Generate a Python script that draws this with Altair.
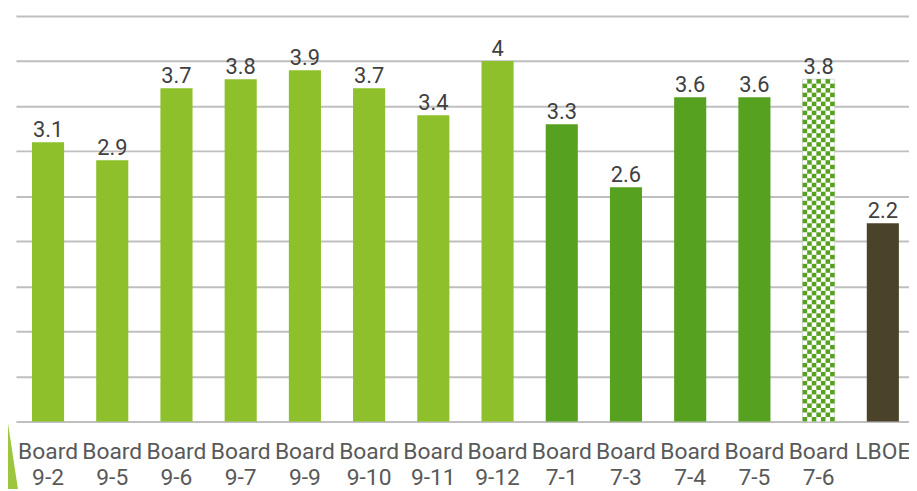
import altair as alt
import pandas as pd

categories = ["Board 9-2", "Board 9-5", "Board 9-6", "Board 9-7", "Board 9-9",
              "Board 9-10", "Board 9-11", "Board 9-12", "Board 7-1", "Board 7-3",
              "Board 7-4", "Board 7-5", "Board 7-6", "LBOE"]
values = [3.1, 2.9, 3.7, 3.8, 3.9, 3.7, 3.4, 4.0, 3.3, 2.6, 3.6, 3.6, 3.8, 2.2]
value_labels = ["3.1", "2.9", "3.7", "3.8", "3.9", "3.7", "3.4", "4",
                "3.3", "2.6", "3.6", "3.6", "3.8", "2.2"]
groups = ["board9"] * 8 + ["board7"] * 4 + ["pattern", "lboe"]

group_domain = ["board9", "board7", "pattern", "lboe"]
group_colors = ["#8DC02A", "#56A11F", "#FFFFFF", "#4B4329"]

df = pd.DataFrame({"cat": categories, "value": values,
                   "label": value_labels, "group": groups})

# checkerboard fill for the hatched bar (decoration cells)
cell = 0.05
ncols = 7
cells = []
for c, v, g in zip(categories, values, groups):
    if g != "pattern":
        continue
    nrows = int(round(v / cell + 0.4999))
    for r in range(nrows):
        for col in range(ncols):
            if (r + col) % 2 == 0:
                cells.append({"cat": c, "col": col, "y0": r * cell,
                              "y1": min((r + 1) * cell, v)})
cells_df = pd.DataFrame(cells)

xscale = alt.Scale(domain=categories, range=[0, 907], paddingInner=0.5, paddingOuter=0.25)
xaxis = alt.Axis(title=None, domain=False, ticks=False, labelAngle=0,
                 labelExpr="split(datum.label, ' ')", labelFont="Roboto",
                 labelFontSize=23, labelColor="#595959", labelLineHeight=27,
                 labelBaseline="alphabetic", labelPadding=37, labelOverlap=False)
yscale = alt.Scale(domain=[0, 4.5], nice=False, zero=True)
yaxis = alt.Axis(title=None, labels=False, ticks=False, domain=False, grid=True,
                 values=[0, 0.5, 1, 1.5, 2, 2.5, 3, 3.5, 4, 4.5],
                 gridColor="#BFBFBF", gridWidth=2)

base = alt.Chart(df)

bars = base.mark_bar(stroke="#D9D9D9", strokeWidth=0).encode(
    x=alt.X("cat:N", scale=xscale, axis=xaxis, sort=categories),
    y=alt.Y("value:Q", scale=yscale, axis=yaxis),
    color=alt.Color("group:N", scale=alt.Scale(domain=group_domain, range=group_colors), legend=None),
    strokeWidth=alt.condition("datum.group == 'pattern'", alt.value(1), alt.value(0)),
)

checker = alt.Chart(cells_df).mark_bar(color="#56A11F").encode(
    x=alt.X("cat:N", scale=xscale, sort=categories),
    xOffset=alt.XOffset("col:O", scale=alt.Scale(paddingInner=0, paddingOuter=0)),
    y=alt.Y("y0:Q", scale=yscale),
    y2="y1:Q",
)

texts = base.mark_text(baseline="alphabetic", dy=-5, font="Roboto", fontSize=22,
                       color="#404040").encode(
    x=alt.X("cat:N", scale=xscale, sort=categories),
    y=alt.Y("value:Q", scale=yscale),
    text="label:N",
)

triangle = alt.Chart(pd.DataFrame({"d": [0]})).mark_point(
    shape="M-0.15,-0.9917 L0.15,0.9917 L-0.15,0.9917 Z",
    filled=True, fill="#9CC63E", opacity=1, strokeWidth=0, size=14400,
).encode(x=alt.value(-7), y=alt.value(417.5))

chart = alt.layer(bars, checker, texts, triangle).properties(
    width=901, height=409,
    autosize=alt.AutoSizeParams(type="none"),
    padding={"left": 8, "top": 6, "right": 0, "bottom": 68},
).configure_view(stroke=None)

chart.save("out.html", embed_options={"renderer": "svg", "actions": False})
